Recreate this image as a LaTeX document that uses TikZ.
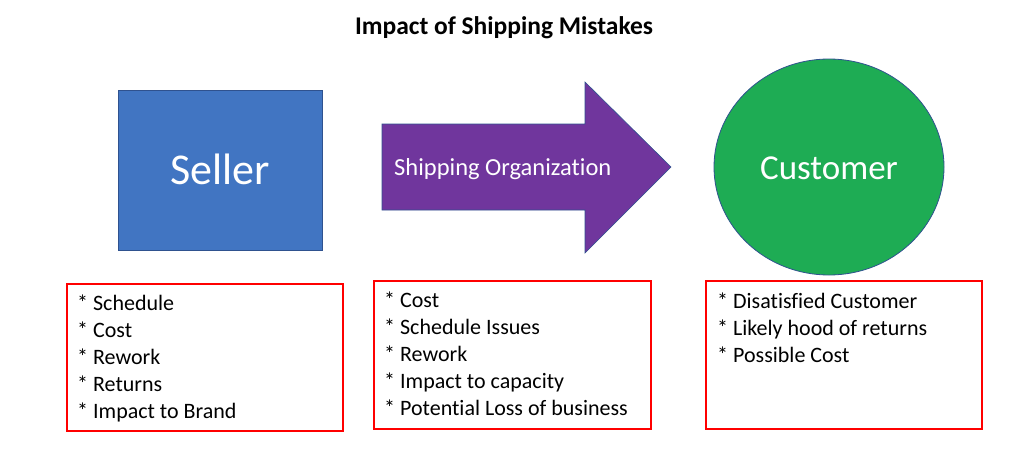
\documentclass[tikz,border=0pt]{standalone}
\usepackage{fontspec}
\setmainfont{Carlito}[Ligatures={NoCommon}]
\usetikzlibrary{shapes.geometric}
\definecolor{sellerblue}{RGB}{65,117,194}
\definecolor{sellerborder}{RGB}{47,82,143}
\definecolor{shippurple}{RGB}{112,54,157}
\definecolor{custgreen}{RGB}{30,172,84}
\definecolor{boxred}{RGB}{255,0,0}
\tikzset{
  listbox/.style={draw=boxred, line width=2.2pt},
  listtext/.style={anchor=base west, inner sep=0pt,
    font=\fontsize{22}{27}\selectfont, text=black},
  bigwhite/.style={text=white},
}
\begin{document}
\begin{tikzpicture}[x=1pt,y=-1pt]
\useasboundingbox[fill=white] (0,0) rectangle (1024,461);
% title
\node[font=\bfseries\fontsize{25.5}{30}\selectfont, anchor=base] (title) at (504,34) {Impact of Shipping Mistakes};
% seller
\draw[fill=sellerblue, draw=sellerborder, line width=0.8pt] (118,90) rectangle (322,250);
\node[bigwhite, font=\fontsize{44}{50}\selectfont, anchor=base] (seller) at (220,184) {Seller};
% shipping arrow
\draw[fill=shippurple, draw=sellerborder, line width=0.6pt]
  (382,124) -- (585,124) -- (585,82) -- (671,167) -- (585,253) -- (585,210) -- (382,210) -- cycle;
\node[bigwhite, font=\fontsize{24.5}{28}\selectfont, anchor=base west, inner sep=0pt] (ship) at (394,175) {Shipping Organization};
% customer
\draw[fill=custgreen, draw=sellerborder, line width=0.8pt] (829,167) ellipse [x radius=115, y radius=108];
\node[bigwhite, font=\fontsize{35}{40}\selectfont, anchor=base] (cust) at (829,179) {Customer};
% list boxes
\draw[listbox] (67,284) rectangle (343,431);
\foreach \t [count=\i] in {Schedule, Cost, Rework, Returns, Impact to Brand}
  \node[listtext] (la\i) at (77,{310+27*(\i-1)}) {* \t};
\draw[listbox] (374,281) rectangle (651,429);
\foreach \t [count=\i] in {Cost, Schedule Issues, Rework, Impact to capacity, Potential Loss of business}
  \node[listtext] (lb\i) at (384,{307+27*(\i-1)}) {* \t};
\draw[listbox] (706,281) rectangle (982,429);
\foreach \t [count=\i] in {Disatisfied Customer, Likely hood of returns, Possible Cost}
  \node[listtext] (lc\i) at (717,{308+27*(\i-1)}) {* \t};
\end{tikzpicture}
\end{document}
